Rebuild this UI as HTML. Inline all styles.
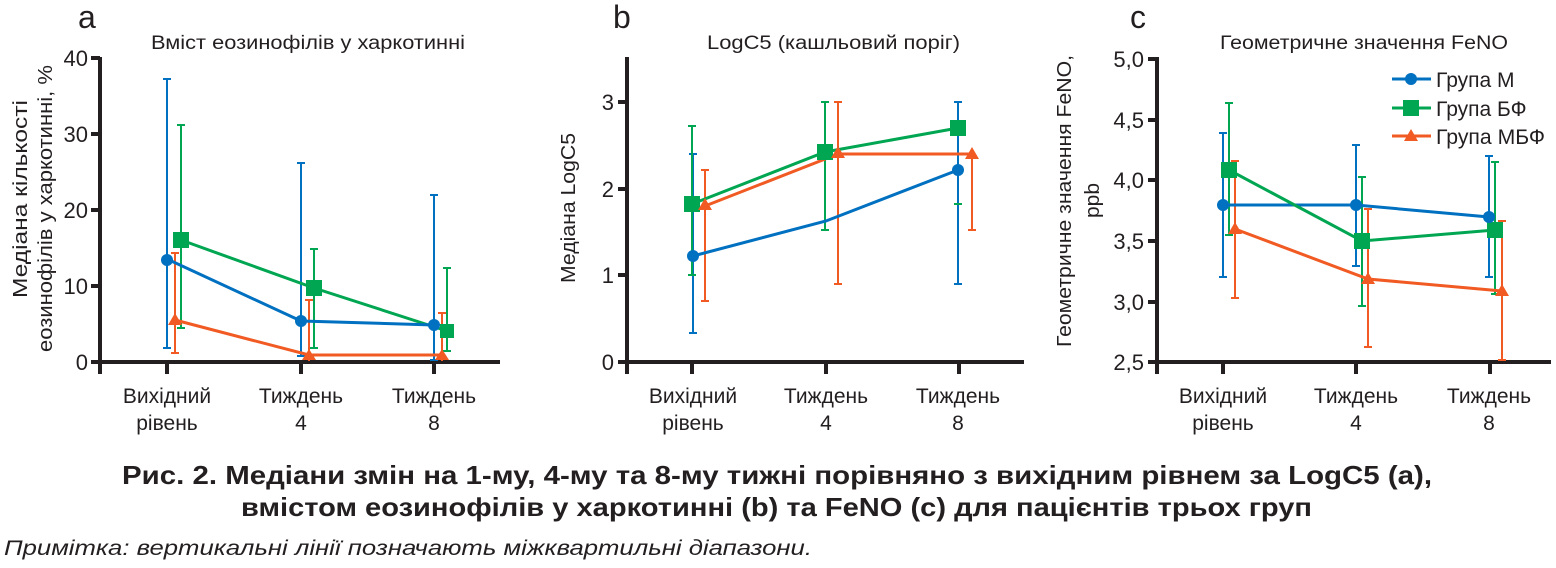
<!DOCTYPE html>
<html><head><meta charset="utf-8"><style>
body{margin:0;background:#fff;width:1556px;height:568px;overflow:hidden}
svg{display:block}
text{font-family:"Liberation Sans","DejaVu Sans",sans-serif;fill:#231f20}
</style></head><body>
<svg width="1556" height="568" viewBox="0 0 1556 568" xmlns="http://www.w3.org/2000/svg">
<g stroke="#231f20" stroke-width="4" fill="none">
<path d="M100 57V374M98 362H500M167 362V374M301 362V374M434 362V374"/>
<path d="M91 58H100M91 134H100M91 210H100M91 286H100M91 362H100"/>
<path d="M627 57V374M625 362H1024M692 362V374M826 362V374M959 362V374"/>
<path d="M618 102H627M618 189H627M618 275H627M618 362H627"/>
<path d="M1157 57V374M1155 362H1551M1223 362V374M1356 362V374M1490 362V374"/>
<path d="M1148 59H1157M1148 120H1157M1148 180H1157M1148 241H1157M1148 302H1157M1148 362H1157"/>
</g>
<g font-size="22" text-anchor="end">
<text x="88" y="66">40</text><text x="88" y="142">30</text><text x="88" y="218">20</text><text x="88" y="294">10</text><text x="88" y="370">0</text>
<text x="614" y="110">3</text><text x="614" y="197">2</text><text x="614" y="283">1</text><text x="614" y="370">0</text>
<text x="1144" y="67">5,0</text><text x="1144" y="128">4,5</text><text x="1144" y="188">4,0</text><text x="1144" y="249">3,5</text><text x="1144" y="310">3,0</text><text x="1144" y="370">2,5</text>
</g>
<g font-size="21" text-anchor="middle">
<text x="167" y="403">Вихідний</text><text x="167" y="430">рівень</text>
<text x="301" y="403">Тиждень</text><text x="301" y="430">4</text>
<text x="434" y="403">Тиждень</text><text x="434" y="430">8</text>
<text x="693" y="403">Вихідний</text><text x="693" y="430">рівень</text>
<text x="826" y="403">Тиждень</text><text x="826" y="430">4</text>
<text x="958" y="403">Тиждень</text><text x="958" y="430">8</text>
<text x="1223" y="403">Вихідний</text><text x="1223" y="430">рівень</text>
<text x="1356" y="403">Тиждень</text><text x="1356" y="430">4</text>
<text x="1489" y="403">Тиждень</text><text x="1489" y="430">8</text>
</g>
<g font-size="19">
<text x="151" y="49" textLength="314" lengthAdjust="spacingAndGlyphs">Вміст еозинофілів у харкотинні</text>
<text x="707" y="49" textLength="253" lengthAdjust="spacingAndGlyphs">LogC5 (кашльовий поріг)</text>
<text x="1220" y="49" textLength="288" lengthAdjust="spacingAndGlyphs">Геометричне значення FeNO</text>
</g>
<g font-size="32"><text x="78" y="28">a</text><text x="613" y="28">b</text><text x="1130" y="28">c</text></g>
<g font-size="20">
<text transform="translate(27,298) rotate(-90)" textLength="198" lengthAdjust="spacingAndGlyphs">Медіана кількості</text>
<text transform="translate(52,352) rotate(-90)" textLength="287" lengthAdjust="spacingAndGlyphs">еозинофілів у харкотинні, %</text>
<text transform="translate(575,283) rotate(-90)" textLength="150" lengthAdjust="spacingAndGlyphs">Медіана LogC5</text>
<text transform="translate(1071,347) rotate(-90)" textLength="292" lengthAdjust="spacingAndGlyphs">Геометричне значення FeNO,</text>
<text transform="translate(1099,218) rotate(-90)" textLength="35" lengthAdjust="spacingAndGlyphs">ppb</text>
</g>
<!-- Panel a -->
<g stroke-width="2" fill="none">
<g stroke="#0070c0"><path d="M167 79V348M163 79H171M163 348H171M301 163V356M297 163H305M297 356H305M434 195V360M430 195H438M430 360H438"/></g>
<g stroke="#00a651"><path d="M181 125V328M177 125H185M177 328H185M314 249V348M310 249H318M310 348H318M447 268V351M443 268H451M443 351H451"/></g>
<g stroke="#f15a22"><path d="M175 253V353M171 253H179M171 353H179M309 300V361M305 300H313M442 313V361M438 313H446"/></g>
</g>
<g fill="none" stroke-width="3">
<polyline stroke="#00a651" points="181,240 314,288 447,331"/>
<polyline stroke="#0070c0" points="167,259 301,321 434,325"/>
<polyline stroke="#f15a22" points="175,320 309,355 442,355"/>
</g>
<g fill="#00a651"><rect x="173" y="232" width="16" height="16"/><rect x="306" y="280" width="16" height="16"/><rect x="440" y="324" width="14" height="14"/></g>
<g fill="#0070c0"><circle cx="167" cy="260" r="6"/><circle cx="301" cy="321" r="6"/><circle cx="434" cy="325" r="6"/></g>
<g fill="#f15a22"><path d="M175 313L182 325H168Z"/><path d="M309 349L316 360H302Z"/><path d="M442 349L449 360H435Z"/></g>
<!-- Panel b -->
<g stroke-width="2" fill="none">
<g stroke="#0070c0"><path d="M693 154V333M689 154H697M689 333H697M958 102V284M954 102H962M954 284H962"/></g>
<g stroke="#00a651"><path d="M692 126V275M688 126H696M688 275H696M825 102V230M821 102H829M821 230H829M954 204H962"/></g>
<g stroke="#f15a22"><path d="M705 170V301M701 170H709M701 301H709M838 102V284M834 102H842M834 284H842M972 154V230M968 230H976"/></g>
</g>
<g fill="none" stroke-width="3">
<polyline stroke="#00a651" points="692,204 825,152 958,128"/>
<polyline stroke="#f15a22" points="705,206 838,154 972,154"/>
<polyline stroke="#0070c0" points="693,256 826,221 958,170"/>
</g>
<g fill="#00a651"><rect x="684" y="196" width="16" height="16"/><rect x="817" y="144" width="16" height="16"/><rect x="950" y="120" width="16" height="16"/></g>
<g fill="#0070c0"><circle cx="693" cy="256" r="6"/><circle cx="958" cy="170" r="6"/></g>
<g fill="#f15a22"><path d="M705 198L712 210H698Z"/><path d="M838 146L845 158H831Z"/><path d="M972 147L979 159H965Z"/></g>
<!-- Panel c -->
<g stroke-width="2" fill="none">
<g stroke="#0070c0"><path d="M1223 133V277M1219 133H1227M1219 277H1227M1356 145V266M1352 145H1360M1352 266H1360M1489 156V277M1485 156H1493M1485 277H1493"/></g>
<g stroke="#00a651"><path d="M1229 103V235M1225 103H1233M1225 235H1233M1362 177V306M1358 177H1366M1358 306H1366M1495 162V294M1491 162H1499M1491 294H1499"/></g>
<g stroke="#f15a22"><path d="M1235 161V298M1231 161H1239M1231 298H1239M1368 209V347M1364 209H1372M1364 347H1372M1502 221V360M1498 221H1506M1498 360H1506"/></g>
</g>
<g fill="none" stroke-width="3">
<polyline stroke="#0070c0" points="1223,205 1356,205 1489,217"/>
<polyline stroke="#00a651" points="1229,170 1362,241 1495,230"/>
<polyline stroke="#f15a22" points="1235,229 1368,279 1502,291"/>
</g>
<g fill="#00a651"><rect x="1221" y="162" width="16" height="16"/><rect x="1354" y="233" width="16" height="16"/><rect x="1487" y="222" width="16" height="16"/></g>
<g fill="#0070c0"><circle cx="1223" cy="205" r="6"/><circle cx="1356" cy="205" r="6"/><circle cx="1489" cy="217" r="6"/></g>
<g fill="#f15a22"><path d="M1235 222L1242 234H1228Z"/><path d="M1368 272L1375 284H1361Z"/><path d="M1502 284L1509 296H1495Z"/></g>
<!-- legend -->
<g stroke-width="3"><path stroke="#0070c0" d="M1392 79H1431"/><path stroke="#00a651" d="M1392 108H1431"/><path stroke="#f15a22" d="M1392 136H1431"/></g>
<circle cx="1411" cy="79" r="6" fill="#0070c0"/><rect x="1403" y="100" width="16" height="16" fill="#00a651"/><path d="M1411 129L1418 141H1404Z" fill="#f15a22"/>
<g font-size="21"><text x="1436" y="87">Група М</text><text x="1436" y="116">Група БФ</text><text x="1436" y="144" textLength="109" lengthAdjust="spacingAndGlyphs">Група МБФ</text></g>
<g font-size="26" font-weight="bold">
<text x="122" y="484" textLength="1310" lengthAdjust="spacingAndGlyphs">Рис. 2. Медіани змін на 1-му, 4-му та 8-му тижні порівняно з вихідним рівнем за LogC5 (a),</text>
<text x="241" y="516" textLength="1071" lengthAdjust="spacingAndGlyphs">вмістом еозинофілів у харкотинні (b) та FeNO (c) для пацієнтів трьох груп</text>
</g>
<text x="4" y="555" font-size="21" font-style="italic" textLength="808" lengthAdjust="spacingAndGlyphs">Примітка: вертикальні лінії позначають міжквартильні діапазони.</text>
</svg>
</body></html>
